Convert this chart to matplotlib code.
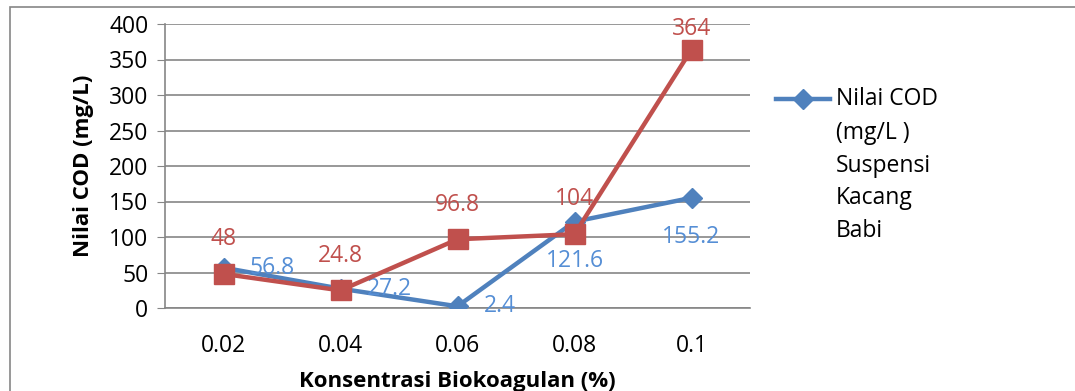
import matplotlib
matplotlib.use("Agg")
import matplotlib.pyplot as plt
from matplotlib.patches import Rectangle
from matplotlib.lines import Line2D

categories = ["0.02", "0.04", "0.06", "0.08", "0.1"]
blue_vals = [56.8, 27.2, 2.4, 121.6, 155.2]
red_vals = [48, 24.8, 96.8, 104, 364]
blue_name_lines = ["Nilai COD", "(mg/L )", "Suspensi", "Kacang", "Babi"]
yticks = [0, 50, 100, 150, 200, 250, 300, 350, 400]

BLUE = "#4F81BD"
BLUE_TXT = "#558ED5"
RED = "#C0504D"
GRID = "#868686"
FS = 16.5

plt.rcParams['font.family'] = ['Open Sans', 'DejaVu Sans']

W, H = 1075, 391
fig = plt.figure(figsize=(W/100, H/100), dpi=100)
ax = fig.add_axes([165/W, 1-308/H, (750-165)/W, (308-24)/H])

x = list(range(len(categories)))
ax.plot(x, blue_vals, color=BLUE, lw=3.2, marker='D', ms=10, zorder=3)
ax.plot(x, red_vals, color=RED, lw=3.2, marker='s', ms=15, zorder=4)

ax.set_xlim(-0.5, len(categories) - 0.5)
ax.set_ylim(0, 400)
ax.set_yticks(yticks)
ax.set_xticks(x)
ax.set_xticklabels(categories)
ax.tick_params(axis='y', labelsize=FS, length=6, color=GRID, pad=6)
ax.tick_params(axis='x', labelsize=FS, length=0, pad=19)
ax.grid(axis='y', color=GRID, lw=1.2)
ax.set_axisbelow(True)
for s in ['top', 'right']:
    ax.spines[s].set_visible(False)
for s in ['left', 'bottom']:
    ax.spines[s].set_color(GRID)
    ax.spines[s].set_linewidth(1.2)

ax.set_ylabel("Nilai COD (mg/L)", fontsize=16, fontweight='bold', labelpad=11)
ax.set_xlabel("Konsentrasi Biokoagulan (%)", fontsize=16, fontweight='bold', labelpad=9)

# red labels above points
red_dy = [25, 25, 25, 25, 15]
for i, v in enumerate(red_vals):
    ax.annotate(f"{v:g}", (i, v), xytext=(0, red_dy[i]), textcoords='offset points',
                ha='center', va='center', color=RED, fontsize=FS)

# blue labels
blue_offsets = [(19, 0), (19, 0), (19, 0), (0, -28), (0, -28)]
blue_ha = ['left', 'left', 'left', 'center', 'center']
for i, v in enumerate(blue_vals):
    ax.annotate(f"{v:g}", (i, v), xytext=blue_offsets[i], textcoords='offset points',
                ha=blue_ha[i], va='center', color=BLUE_TXT, fontsize=FS)

# legend (manual)
ly = 1 - 99/H
fig.add_artist(Line2D([776/W, 830/W], [ly, ly], transform=fig.transFigure,
                      color=BLUE, lw=3.2))
fig.add_artist(Line2D([803/W], [ly], transform=fig.transFigure,
                      color=BLUE, marker='D', ms=10, lw=0))
line_y = [99, 133, 166, 198, 231]
for t, yy in zip(blue_name_lines, line_y):
    fig.text(836/W, 1 - yy/H, t, fontsize=FS, ha='left', va='center')

# chart border
fig.add_artist(Rectangle((10/W, -0.1), 1.2, 1 - 7/H + 0.1,
                         transform=fig.transFigure, fill=False,
                         edgecolor=GRID, lw=1.2))

fig.savefig("out.png", dpi=100)
